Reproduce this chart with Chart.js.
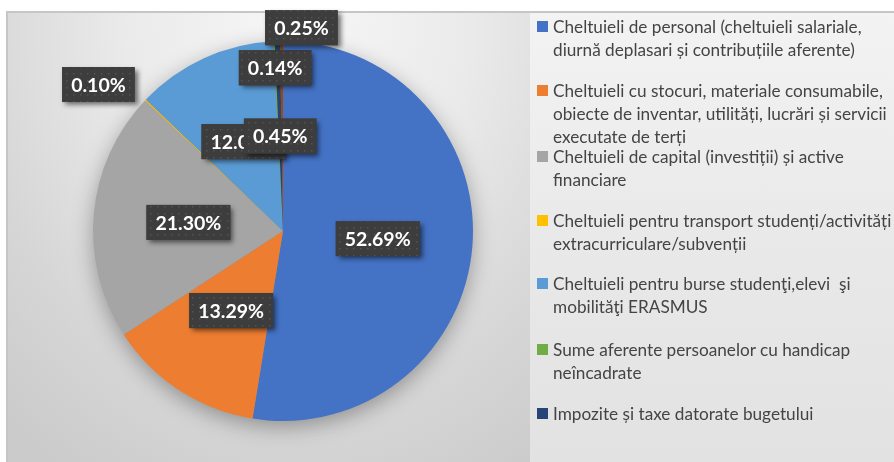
<!DOCTYPE html>
<html>
<head>
<meta charset="utf-8">
<script src="https://cdn.jsdelivr.net/npm/chart.js@4/dist/chart.umd.min.js"></script>
<style>
  html, body { margin:0; padding:0; background:#fff; }
  #wrap { position:relative; width:894px; height:462px; overflow:hidden; }
  #frame { position:absolute; left:6px; top:11px; width:888px; height:451px;
    border-top:2px solid #c6c6c6; border-left:2px solid #c6c6c6; box-sizing:border-box;
    background: radial-gradient(ellipse 440px 540px at 290px 0px, #f7f7f7 0%, #eaeaea 40%, #d6d6d6 75%, #cbcbcb 100%); }
  #legbg { position:absolute; left:530px; top:13px; width:364px; height:449px;
    background: linear-gradient(to bottom, #f3f3f3 0%, #e9e9e9 50%, #e2e2e2 100%); }
  #c { position:absolute; left:0; top:0; }
  #legend { position:absolute; left:537px; top:0; width:357px; font-family: Lato, "Open Sans", sans-serif;
    font-size:17.2px; color:#444444; }
  .item { position:absolute; left:0; white-space:nowrap; line-height:23px; }
  .sw { position:absolute; left:0; top:6px; width:11px; height:11px; }
  .tx { position:absolute; left:16px; top:0; }
</style>
</head>
<body>
<div id="wrap">
  <div id="frame"></div>
  <div id="legbg"></div>
  <canvas id="c" width="894" height="462"></canvas>
  <div id="legend"></div>
</div>
<script>
// ---- data ----
const categories = [
  ["Cheltuieli de personal (cheltuieli salariale,", "diurnă deplasari și contribuțiile aferente)"],
  ["Cheltuieli cu stocuri, materiale consumabile,", "obiecte de inventar, utilități, lucrări și servicii", "executate de terți"],
  ["Cheltuieli de capital (investiții) și active", "financiare"],
  ["Cheltuieli pentru transport studenți/activități", "extracurriculare/subvenții"],
  ["Cheltuieli pentru burse studenţi,elevi  şi", "mobilităţi ERASMUS"],
  ["Sume aferente persoanelor cu handicap", "neîncadrate"],
  ["Impozite și taxe datorate bugetului"],
  [""]
];
const percentValues = [52.69, 13.29, 21.30, 0.10, 12.03, 0.14, 0.45, 0.25];
const legendCount = 7;

// ---- styles ----
const colors = ["#4472C4", "#ED7D31", "#A5A5A5", "#FFC000", "#5B9BD5", "#70AD47", "#264478", "#9E480E"];
const labelRadial = [0.5, 0.5, 0.5, 1.24, 0.5, 0.86, 0.5, 1.07];
const labelNudge = [[0,0],[0,0],[0,0],[-14,16],[0,-3],[0,0],[0,0],[20,0]];

function makePattern(ctx) {
  const p = document.createElement('canvas');
  p.width = 7; p.height = 7;
  const g = p.getContext('2d');
  g.fillStyle = '#3d3d3d'; g.fillRect(0,0,7,7);
  g.fillStyle = '#545454'; g.fillRect(3,3,1.5,1.5);
  return ctx.createPattern(p, 'repeat');
}

const pieShadow = {
  id: 'pieShadow',
  beforeDatasetsDraw(chart) {
    const arc = chart.getDatasetMeta(0).data[0];
    if (!arc) return;
    const {x, y, outerRadius} = arc.getProps(['x','y','outerRadius'], true);
    const ctx = chart.ctx;
    ctx.save();
    ctx.shadowColor = 'rgba(0,0,0,0.35)';
    ctx.shadowBlur = 22;
    ctx.shadowOffsetY = 6;
    ctx.beginPath();
    ctx.arc(x, y, outerRadius - 1, 0, Math.PI*2);
    ctx.fillStyle = '#888';
    ctx.fill();
    ctx.restore();
  }
};

const boxLabels = {
  id: 'boxLabels',
  afterDatasetsDraw(chart) {
    const ctx = chart.ctx;
    const meta = chart.getDatasetMeta(0);
    const pat = makePattern(ctx);
    ctx.save();
    ctx.font = 'bold 19.5px Lato, "Open Sans", sans-serif';
    ctx.textAlign = 'center';
    ctx.textBaseline = 'middle';
    meta.data.forEach((arc, i) => {
      const p = arc.getProps(['x','y','startAngle','endAngle','outerRadius'], true);
      const mid = (p.startAngle + p.endAngle) / 2;
      const r = p.outerRadius * labelRadial[i];
      const cx = p.x + Math.cos(mid) * r + labelNudge[i][0];
      const cy = p.y + Math.sin(mid) * r + labelNudge[i][1];
      const txt = percentValues[i].toFixed(2) + '%';
      const w = ctx.measureText(txt).width + 18;
      const h = 35;
      ctx.save();
      ctx.shadowColor = 'rgba(0,0,0,0.55)';
      ctx.shadowBlur = 5;
      ctx.shadowOffsetX = 3;
      ctx.shadowOffsetY = 3;
      ctx.fillStyle = '#3d3d3d';
      ctx.fillRect(cx - w/2, cy - h/2, w, h);
      ctx.restore();
      ctx.fillStyle = pat;
      ctx.fillRect(cx - w/2, cy - h/2, w, h);
      ctx.fillStyle = '#ffffff';
      ctx.fillText(txt, cx, cy + 1);
    });
    ctx.restore();
  }
};

const chart = new Chart(document.getElementById('c'), {
  type: 'pie',
  data: {
    labels: categories,
    datasets: [{
      data: percentValues,
      backgroundColor: colors,
      borderWidth: 0,
      hoverOffset: 0
    }]
  },
  options: {
    responsive: false,
    animation: false,
    events: [],
    layout: { padding: { left: 93, right: 421, top: 41, bottom: 41 } },
    plugins: { legend: { display: false }, tooltip: { enabled: false } }
  },
  plugins: [pieShadow, boxLabels]
});

// HTML legend built from chart data
const legendEl = document.getElementById('legend');
const itemTops = [15, 79, 145, 209, 272, 338, 402];
for (let i = 0; i < legendCount; i++) {
  const item = document.createElement('div');
  item.className = 'item';
  item.style.top = itemTops[i] + 'px';
  const sw = document.createElement('div');
  sw.className = 'sw';
  sw.style.background = chart.data.datasets[0].backgroundColor[i];
  const tx = document.createElement('div');
  tx.className = 'tx';
  tx.innerHTML = chart.data.labels[i].map(s => s.replace(/&/g,'&amp;').replace(/</g,'&lt;').replace(/  /g,' &nbsp;')).join('<br>');
  item.appendChild(sw); item.appendChild(tx);
  legendEl.appendChild(item);
}
</script>
</body>
</html>
